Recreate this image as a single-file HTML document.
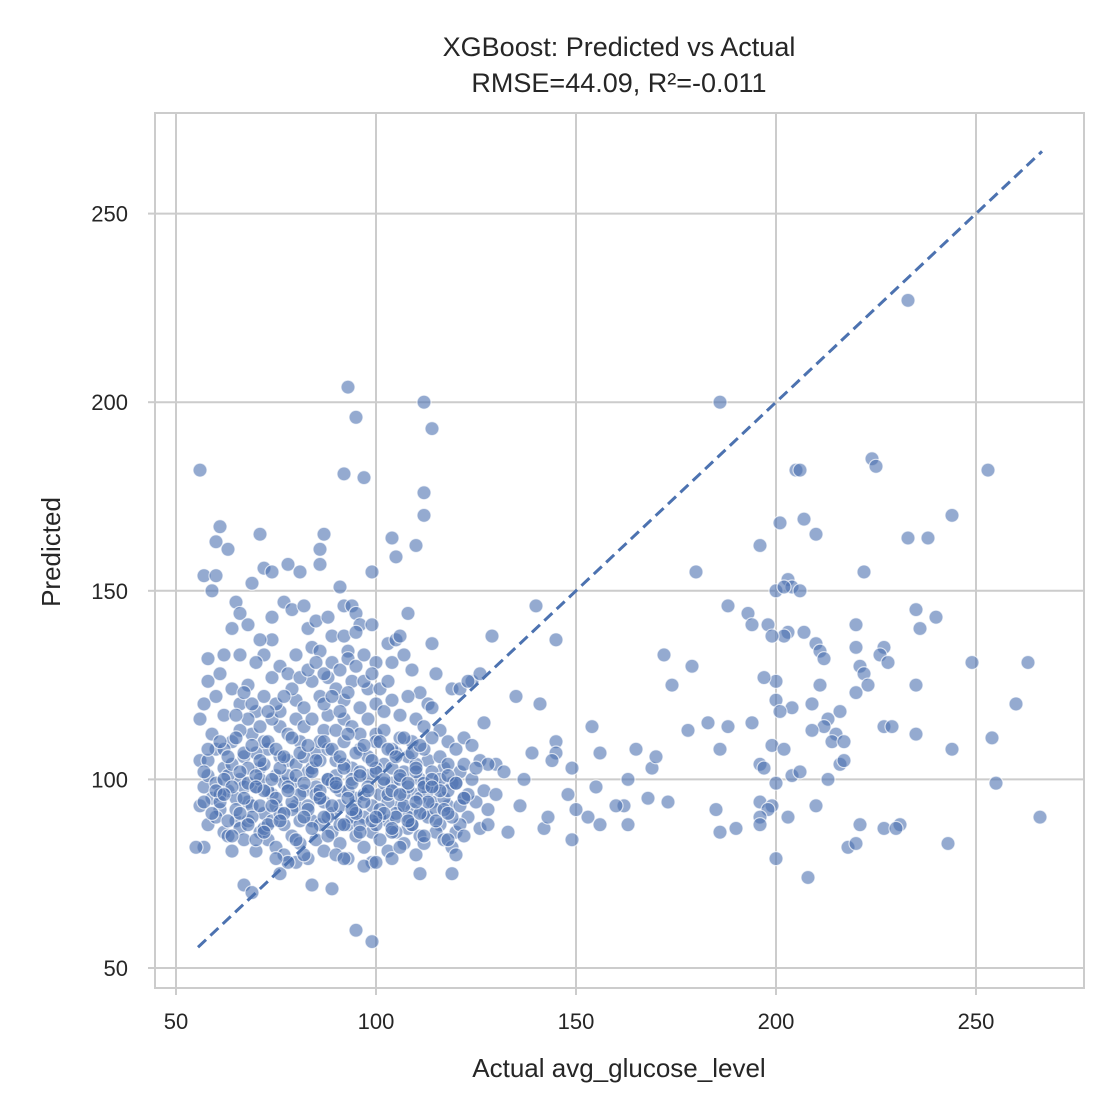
<!DOCTYPE html>
<html><head><meta charset="utf-8"><style>
html,body{margin:0;padding:0;background:#fff;}
svg{display:block;font-family:"Liberation Sans",Arial,sans-serif;}
</style></head><body>
<svg id="chart" width="1120" height="1120" viewBox="0 0 1120 1120">
<rect x="0" y="0" width="1120" height="1120" fill="#fff"/>
<text x="619" y="56" text-anchor="middle" font-size="27" fill="#262626">XGBoost: Predicted vs Actual</text>
<text x="619" y="92" text-anchor="middle" font-size="27" fill="#262626">RMSE=44.09, R²=-0.011</text>
<g id="grid"></g>
<g id="pts"></g>
<g id="ref"></g>
<rect x="155" y="113" width="929" height="875" fill="none" stroke="#cccccc" stroke-width="2"/>
<g id="ticks"></g>
<text x="619" y="1077" text-anchor="middle" font-size="26" fill="#262626">Actual avg_glucose_level</text>
<text x="60" y="552" text-anchor="middle" font-size="26" fill="#262626" transform="rotate(-90 60 552)">Predicted</text>
</svg>
<script>
const xTicks=[50,100,150,200,250];
const yTicks=[50,100,150,200,250];
const lineStart=55.5, lineEnd=266.5;
const actual=[56,93,95,112,114,92,97,112,112,110,104,105,99,87,86,71,61,60,63,57,59,60,69,72,78,81,86,74,95,99,67,69,84,89,111,119,76,57,55,
186,233,224,225,205,206,253,244,210,207,201,196,233,238,180,222,203,204,206,200,202,188,193,194,198,235,240,236,220,203,202,199,207,210,211,212,220,227,226,228,221,222,223,220,235,216,209,211,200,197,179,172,174,263,249,260,254,235,227,229,213,212,215,214,209,204,200,201,199,194,188,183,178,217,216,217,202,204,206,200,196,197,186,213,196,199,198,203,210,196,196,190,186,185,200,208,218,220,221,227,231,230,243,244,255,266,173,168,169,170,165,163,162,160,163,156,155,154,153,156,150,148,149,145,145,144,145,141,139,140,135,137,142,149,143,136,133,130,129,127,124,
65,66,68,74,77,79,82,83,85,88,91,92,94,95,96,99,103,105,106,108,114,74,71,72,70,64,62,66,80,84,86,89,92,93,95,100,104,107,109,111,113,115,119,121,123,126,57,58,58,60,61,56,59,62,64,66,68,70,72,74,76,78,80,82,84,86,88,90,92,94,96,98,100,102,104,106,108,110,112,114,116,118,120,122,124,126,128,
56,57,58,59,60,61,62,63,64,65,66,67,68,69,70,71,72,73,74,75,76,77,78,79,80,81,82,83,84,85,86,87,88,89,90,91,92,93,94,95,96,97,98,99,100,101,102,103,104,105,106,107,108,109,110,111,112,113,114,115,116,117,118,119,120,121,122,123,124,125,126,127,128,130,132,
56,57,58,60,62,63,64,66,67,68,70,71,73,75,77,79,81,83,85,87,89,91,93,95,97,99,101,103,105,107,109,111,113,115,117,119,121,
66,68,72,74,76,78,80,82,84,86,88,90,92,94,96,98,100,102,104,106,108,110,112,114,116,118,
60,61,63,65,67,69,71,73,75,77,79,81,83,85,87,89,91,93,95,97,99,101,103,105,107,109,111,113,115,117,119,121,123,
58,62,64,68,70,72,76,78,80,82,84,86,88,90,92,94,96,98,100,102,104,106,108,110,112,114,116,118,120,122,125,
80,82,78,75,90,92,97,100,104,106,110,112,118,120,122,128,70,72,74,76,86,88,94,96,100,104,108,
87,89,91,93,97,99,101,103,79,81,83,85,87,89,91,93,95,97,75,77,73,71,69,67,65,
59,61,63,65,67,69,71,73,75,77,79,81,83,85,87,89,91,93,95,97,99,101,103,105,107,109,111,113,115,117,
57,60,62,64,66,68,70,72,74,76,78,80,82,84,86,88,90,92,94,96,98,100,102,104,106,108,110,112,114,116,118,120,
58,61,63,65,67,69,71,73,75,77,79,81,83,85,87,89,91,93,95,97,99,101,103,105,107,109,111,
62,66,70,74,78,82,86,90,94,98,102,106,110,114,118,122,64,68,72,76,80,84,88,92,96,100,104,108,112];
const predicted=[182,204,196,200,193,181,180,176,170,162,164,159,155,165,161,165,167,163,161,154,150,154,152,156,157,155,157,155,60,57,72,70,72,71,75,75,75,82,82,
200,227,185,183,182,182,182,170,165,169,168,162,164,164,155,155,153,151,150,150,151,146,144,141,141,145,143,140,141,139,138,138,139,136,134,132,135,135,133,131,130,128,125,123,125,118,120,125,126,127,130,133,125,131,131,120,111,112,114,114,116,114,112,110,113,119,121,118,109,115,114,115,113,110,104,105,108,101,102,99,104,103,108,100,94,93,92,90,93,90,88,87,86,92,79,74,82,83,88,87,88,87,83,108,99,90,94,95,103,106,108,100,93,93,88,107,98,114,90,88,92,96,103,110,107,105,137,120,107,146,122,100,87,84,90,93,86,104,138,115,126,
147,144,141,143,147,145,146,140,142,143,151,146,146,144,141,141,136,137,138,144,136,137,137,133,131,140,133,133,133,135,134,138,138,134,139,131,131,133,129,123,120,128,124,124,126,128,120,126,132,122,128,116,112,117,124,120,125,118,122,127,130,128,121,119,126,122,127,124,121,126,119,124,120,118,121,117,122,116,114,119,113,110,108,111,109,105,104,
105,98,101,95,108,92,103,97,110,89,100,106,94,112,98,103,91,108,96,101,114,88,105,99,93,110,97,102,89,107,95,113,100,91,105,97,110,88,103,95,108,90,101,86,112,96,104,89,99,107,93,102,87,110,96,100,91,105,94,98,88,103,93,99,86,102,95,90,100,94,87,97,92,96,102,
93,94,88,90,86,85,81,87,84,89,81,86,84,82,80,85,83,79,84,81,86,83,79,85,82,78,84,81,86,83,88,85,90,86,84,82,88,
113,116,110,116,118,112,116,114,116,110,117,113,116,114,112,116,110,113,108,111,106,104,108,111,106,104,
99,96,101,95,98,93,100,97,93,99,92,96,93,98,94,99,93,97,92,96,93,90,94,91,96,92,95,97,92,95,90,93,96,
105,108,104,103,107,104,106,101,104,106,103,105,108,101,104,100,102,106,103,99,103,100,98,102,99,102,100,97,99,104,103,
78,80,78,79,80,79,77,78,79,82,80,83,84,80,85,88,84,87,89,91,88,90,90,88,88,86,90,
120,122,118,123,126,128,124,126,124,127,129,131,128,131,129,132,130,133,120,122,118,114,120,123,117,
91,94,89,92,95,90,93,88,95,91,94,89,92,96,90,93,88,95,91,94,89,92,96,90,93,88,91,94,89,92,
102,97,100,98,102,99,101,97,100,103,98,101,99,102,97,100,98,103,99,101,98,102,100,97,101,99,103,98,100,97,101,99,
108,110,106,111,107,109,105,110,108,106,111,107,109,105,110,108,106,112,107,109,105,110,108,106,111,107,109,
96,91,98,93,97,90,95,99,92,97,91,96,94,98,91,95,85,88,86,89,84,87,85,88,86,90,87,89,85];
const X0=155,X1=1084,Y0=113,Y1=988;
function sx(v){return 176+(v-50)*4.0;}
function sy(v){return 968-(v-50)*3.772;}
const NS='http://www.w3.org/2000/svg';
const grid=document.getElementById('grid'),ticks=document.getElementById('ticks'),pts=document.getElementById('pts'),ref=document.getElementById('ref');
function mk(t,a){const e=document.createElementNS(NS,t);for(const k in a)e.setAttribute(k,a[k]);return e;}
xTicks.forEach(v=>{
 const l=mk('line',{x1:sx(v),x2:sx(v),y1:Y0,y2:Y1,stroke:'#cccccc','stroke-width':2});
 
 
 grid.appendChild(l);
 const tk=mk('line',{x1:sx(v),x2:sx(v),y1:Y1,y2:Y1+7,stroke:'#cccccc','stroke-width':2});
 
 
 ticks.appendChild(tk);
 const t=mk('text',{x:sx(v),y:1029,'text-anchor':'middle','font-size':22,fill:'#262626'});
 t.textContent=v;
 
 
 ticks.appendChild(t);
});
yTicks.forEach(v=>{
 const l=mk('line',{x1:X0,x2:X1,y1:sy(v),y2:sy(v),stroke:'#cccccc','stroke-width':2});
 
 
 grid.appendChild(l);
 const tk=mk('line',{x1:X0-7,x2:X0,y1:sy(v),y2:sy(v),stroke:'#cccccc','stroke-width':2});
 
 
 ticks.appendChild(tk);
 const t=mk('text',{x:128,y:sy(v)+8,'text-anchor':'end','font-size':22,fill:'#262626'});
 t.textContent=v;
 
 
 ticks.appendChild(t);
});
const n=Math.min(actual.length,predicted.length);
for(let i=0;i<n;i++){
 const c=mk('circle',{cx:sx(actual[i]),cy:sy(predicted[i]),r:7,fill:'#4c72b0','fill-opacity':0.6,stroke:'#ffffff','stroke-opacity':0.7,'stroke-width':1.2});
 
 
 pts.appendChild(c);
}
const rl=mk('line',{x1:sx(lineStart),y1:sy(lineStart),x2:sx(lineEnd),y2:sy(lineEnd),stroke:'#4c72b0','stroke-width':3,'stroke-dasharray':'11,6'});


ref.appendChild(rl);
</script>
</body></html>
